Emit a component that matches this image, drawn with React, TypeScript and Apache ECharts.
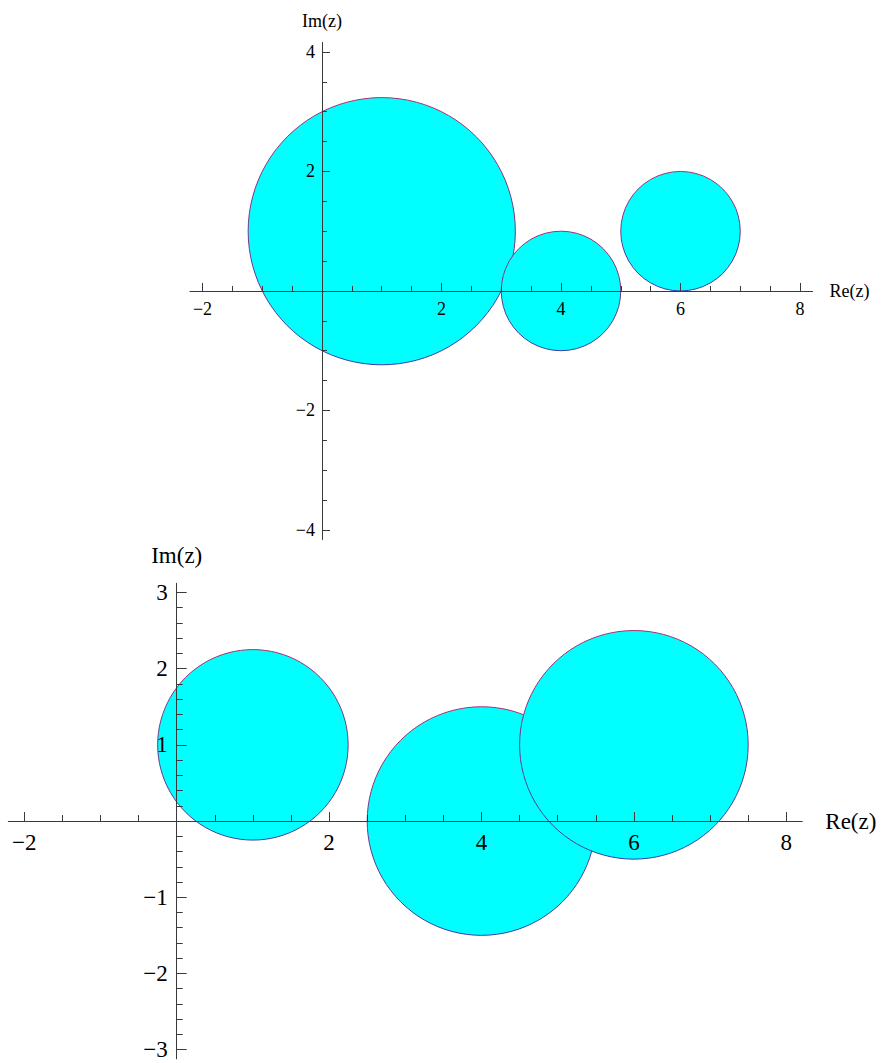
import React, { useEffect, useRef } from "react";
import * as echarts from "echarts";

// Top plot: three disks in the complex plane
const topCx = [1, 4, 6];
const topCy = [1, 0, 1];
const topR = [2.236, 1, 1];

// Bottom plot: three disks
const botCx = [1, 4, 6];
const botCy = [1, 0, 1];
const botR = [1.25, 1.5, 1.5];

// Tick values
const topXMajor = [-2, 2, 4, 6, 8];
const topXMinor = [-1.5, -1, -0.5, 0.5, 1, 1.5, 2.5, 3, 3.5, 4.5, 5, 5.5, 6.5, 7, 7.5];
const topYMajor = [-4, -2, 2, 4];
const topYMinor = [-3.5, -3, -2.5, -1.5, -1, -0.5, 0.5, 1, 1.5, 2.5, 3, 3.5];

const botXMajor = [-2, 2, 4, 6, 8];
const botXMinor = [-1.5, -1, -0.5, 0.5, 1, 1.5, 2.5, 3, 3.5, 4.5, 5, 5.5, 6.5, 7, 7.5];
const botYMajor = [-3, -2, -1, 1, 2, 3];
const botYMinor = [
  -2.8, -2.6, -2.4, -2.2, -1.8, -1.6, -1.4, -1.2, -0.8, -0.6, -0.4, -0.2,
  0.2, 0.4, 0.6, 0.8, 1.2, 1.4, 1.6, 1.8, 2.2, 2.4, 2.6, 2.8,
];

// Plot ranges
const topX = [-2.21, 8.21];
const topY = [-4.16, 4.16];
const botX = [-2.21, 8.21];
const botY = [-3.12, 3.12];

const FONT = "Liberation Serif";
const AXIS_COLOR = "#3a3a3a";

const GRIDS = [
  { left: 189.95, top: 42.4, width: 622.6, height: 497.1 },
  { left: 8.3, top: 583.3, width: 794.0, height: 475.5 },
];

const fmt = (v: number) => (v < 0 ? "\u2212" + Math.abs(v) : String(v));

// offset that moves an axis from the grid edge to the other axis' zero
function zeroOffset(dim: "x" | "y", gridIndex: number) {
  const g = GRIDS[gridIndex];
  if (dim === "x") {
    const r = gridIndex === 0 ? topY : botY;
    return -((0 - r[0]) / (r[1] - r[0])) * g.height;
  }
  const r = gridIndex === 0 ? topX : botX;
  return -((0 - r[0]) / (r[1] - r[0])) * g.width;
}

function majorAxis(
  dim: "x" | "y",
  gridIndex: number,
  range: number[],
  values: number[],
  fontSize: number,
  tickLen: number,
  name: string,
  nameGap: number,
  margin: number
) {
  return {
    type: "value",
    gridIndex,
    min: range[0],
    max: range[1],
    position: dim === "x" ? "bottom" : "left",
    offset: zeroOffset(dim, gridIndex),
    z: 10,
    name,
    nameLocation: "end",
    nameGap,
    nameTextStyle: { fontFamily: FONT, fontSize, color: "#000" },
    axisLine: {
      show: true,
      onZero: false,
      lineStyle: { color: AXIS_COLOR, width: 1 },
    },
    axisTick: {
      show: true,
      inside: true,
      length: tickLen,
      customValues: values,
      lineStyle: { color: AXIS_COLOR, width: 1 },
    },
    axisLabel: {
      show: true,
      customValues: values,
      formatter: fmt,
      fontFamily: FONT,
      fontSize,
      color: "#000",
      margin,
    },
    splitLine: { show: false },
    minorTick: { show: false },
  };
}

function minorAxis(
  dim: "x" | "y",
  gridIndex: number,
  range: number[],
  values: number[],
  tickLen: number
) {
  return {
    type: "value",
    gridIndex,
    min: range[0],
    max: range[1],
    position: dim === "x" ? "bottom" : "left",
    offset: zeroOffset(dim, gridIndex),
    z: 10,
    axisLine: { show: false, onZero: false },
    axisTick: {
      show: true,
      inside: true,
      length: tickLen,
      customValues: values,
      lineStyle: { color: AXIS_COLOR, width: 1 },
    },
    axisLabel: { show: false },
    splitLine: { show: false },
    minorTick: { show: false },
  };
}

const edgeGradient = {
  type: "linear",
  x: 0,
  y: 0,
  x2: 0,
  y2: 1,
  colorStops: [
    { offset: 0, color: "#a8306c" },
    { offset: 1, color: "#3c3ca8" },
  ],
  global: false,
};

const renderDisk = (_params: any, api: any) => {
  const c = api.coord([api.value(0), api.value(1)]);
  const s = api.size([api.value(2), api.value(2)]);
  return {
    type: "circle",
    shape: { cx: c[0], cy: c[1], r: s[0] },
    style: { fill: "#00FFFF", stroke: edgeGradient, lineWidth: 1 },
  };
};

export default function App() {
  const ref = useRef<HTMLDivElement>(null);
  useEffect(() => {
    if (!ref.current) return;
    const chart = echarts.init(ref.current, undefined, { renderer: "svg" });
    const topData = topCx.map((x, i) => [x, topCy[i], topR[i]]);
    const botData = botCx.map((x, i) => [x, botCy[i], botR[i]]);
    chart.setOption({
      animation: false,
      backgroundColor: "#ffffff",
      grid: GRIDS.map((g) => ({
        ...g,
        containLabel: false,
        outerBoundsMode: "none",
      })),
      xAxis: [
        majorAxis("x", 0, topX, topXMajor, 18, 8, "Re(z)", 17, 9),
        minorAxis("x", 0, topX, topXMinor, 5),
        majorAxis("x", 1, botX, botXMajor, 23, 9, "Re(z)", 23, 10),
        minorAxis("x", 1, botX, botXMinor, 6),
      ],
      yAxis: [
        majorAxis("y", 0, topY, topYMajor, 18, 8, "Im(z)", 12, 7),
        minorAxis("y", 0, topY, topYMinor, 5),
        majorAxis("y", 1, botY, botYMajor, 23, 10, "Im(z)", 16, 9),
        minorAxis("y", 1, botY, botYMinor, 6),
      ],
      series: [
        {
          type: "custom",
          xAxisIndex: 0,
          yAxisIndex: 0,
          z: 1,
          renderItem: renderDisk,
          data: topData,
          clip: false,
        },
        {
          type: "custom",
          xAxisIndex: 2,
          yAxisIndex: 2,
          z: 1,
          renderItem: renderDisk,
          data: botData,
          clip: false,
        },
      ],
    });
    return () => chart.dispose();
  }, []);
  return (
    <div
      ref={ref}
      style={{ position: "fixed", left: 0, top: 0, width: 886, height: 1063 }}
    />
  );
}
